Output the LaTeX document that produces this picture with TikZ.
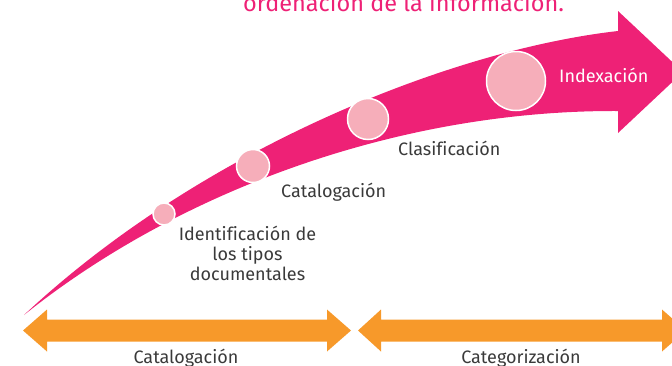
\documentclass[tikz,border=0pt]{standalone}
\usepackage{fontspec}
\setmainfont[Ligatures=NoCommon]{Fira Sans}
\definecolor{pinkc}{HTML}{EE2176}
\definecolor{lightpink}{HTML}{F6AEBA}
\definecolor{orangec}{HTML}{F7992A}
\definecolor{textgray}{HTML}{3A3A3A}
\tikzset{
  dot/.style={circle, draw=white, line width=1.5pt, fill=lightpink, inner sep=0pt},
  lbl/.style={text=textgray, inner sep=0pt, font=\fontsize{18}{20}\selectfont},
  wlbl/.style={text=white, inner sep=0pt, font=\fontsize{18}{20}\selectfont},
}
\begin{document}
\begin{tikzpicture}[x=1pt,y=-1pt]
\useasboundingbox (0,0) rectangle (672,365);
\clip (0,0) rectangle (672,365);
% title (cut off at top)
\node[text=pinkc, inner sep=0pt, anchor=base west, font=\fontsize{23.5}{25}\selectfont] (title) at (243,11) {ordenación de la información.};
% pink curved arrow
\fill[pinkc] (24,315) .. controls (200,150) and (450,50) .. (618,31) -- (618,11) -- (683,72) -- (618,133) -- (618,111) .. controls (400,110) and (180,190) .. (24,315) -- cycle;
% circles
\node[dot, minimum size=22pt] (c1) at (164,214) {};
\node[dot, minimum size=33pt] (c2) at (253,166) {};
\node[dot, minimum size=41pt] (c3) at (368,119) {};
\node[dot, minimum size=59pt] (c4) at (516,81) {};
% labels
\node[wlbl, anchor=base west] (l4) at (559,82.7) {Indexación};
\node[lbl, anchor=base west] (l3) at (398,155) {Clasificación};
\node[lbl, anchor=base west] (l2) at (281,197) {Catalogación};
\node[lbl, anchor=north, align=center] (l1) at (247.5,226) {Identificación de\\los tipos\\documentales};
% orange double arrows
\fill[orangec] (23,330.5) -- (47,309.5) -- (47,319.5) -- (327,319.5) -- (327,309.5) -- (351,330.5) -- (327,351.5) -- (327,341.5) -- (47,341.5) -- (47,351.5) -- cycle;
\fill[orangec] (358,330.5) -- (381,309.5) -- (381,319.5) -- (662,319.5) -- (662,309.5) -- (686,330.5) -- (662,351.5) -- (662,341.5) -- (381,341.5) -- (381,351.5) -- cycle;
\node[lbl, anchor=base] (b1) at (186,363) {Catalogación};
\node[lbl, anchor=base] (b2) at (521,363) {Categorización};
\end{tikzpicture}
\end{document}
